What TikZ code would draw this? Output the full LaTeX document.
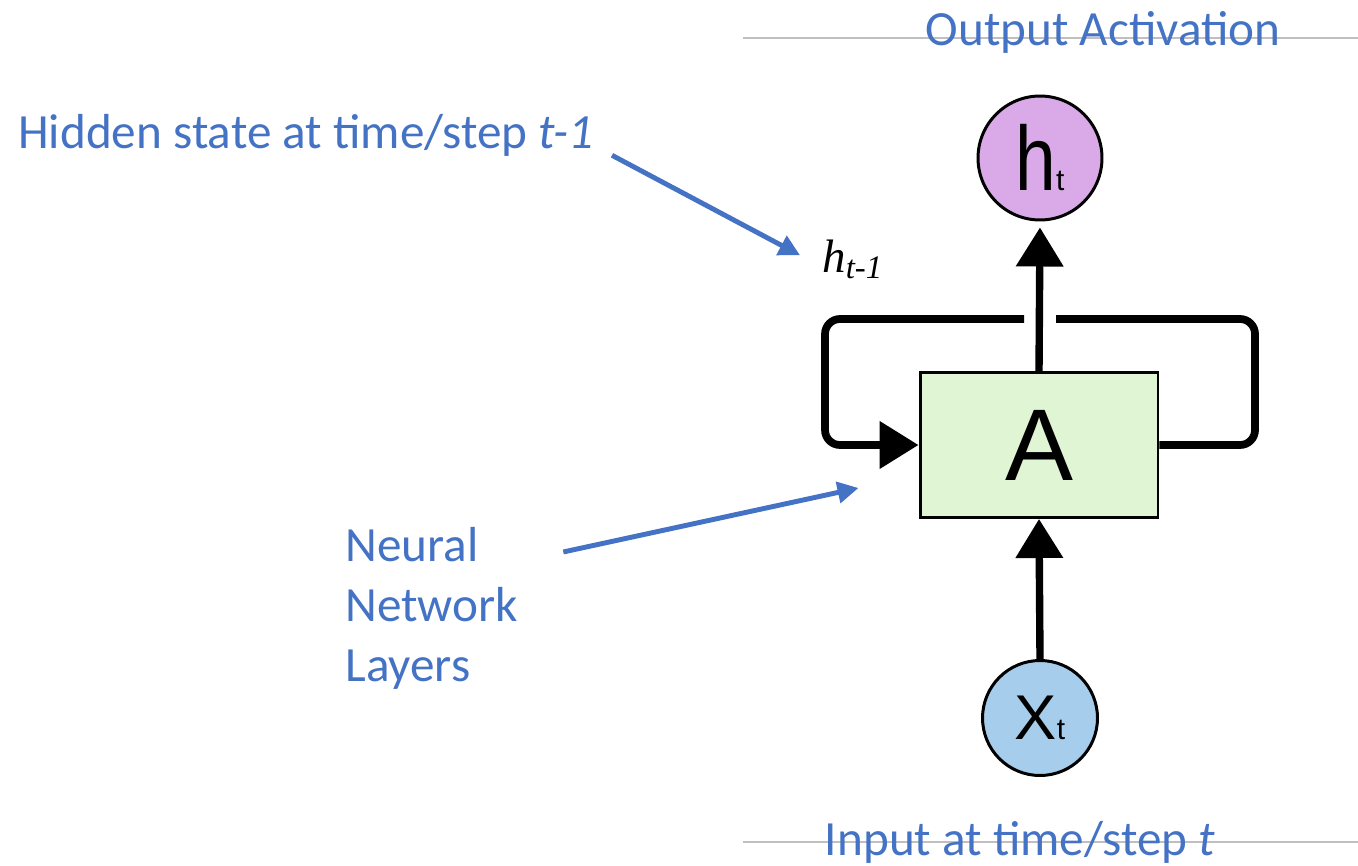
\documentclass[tikz,border=0pt]{standalone}
\usepackage{fontspec}
\setmainfont{Carlito}
\newfontfamily\timesfont{Liberation Serif}
\newfontfamily\arialfont{Liberation Sans}
\usetikzlibrary{arrows.meta,positioning}
\definecolor{slideblue}{RGB}{68,114,196}
\definecolor{rulegray}{RGB}{191,191,191}
\definecolor{hfill}{RGB}{218,170,232}
\definecolor{afill}{RGB}{224,245,212}
\definecolor{xfill}{RGB}{166,205,235}
\tikzset{
  lbl/.style={text=slideblue, font=\fontsize{28}{34.1}\selectfont, inner sep=0pt},
  state/.style={circle, draw=black, line width=1.7pt, inner sep=0pt, font=\arialfont},
  cell/.style={rectangle, draw=black, line width=1.7pt, fill=afill,
    minimum width=4.76cm, minimum height=2.9cm, font=\arialfont\fontsize{58}{60}\selectfont},
  bigtip/.style={-{Triangle[length=0.78cm, width=0.92cm]}},
  flow/.style={line width=4.2pt, bigtip},
  loopline/.style={line width=4.4pt, rounded corners=0.3cm},
  pointer/.style={draw=slideblue, line width=2.8pt, -{Triangle[length=0.42cm, width=0.42cm]}},
  rule/.style={draw=rulegray, line width=0.8pt}
}
\begin{document}
\begin{tikzpicture}[x=0.02cm, y=-0.02cm] % one unit = one pixel, y runs down
\useasboundingbox (0,0) rectangle (1358,865);

% gray slide rules
\draw[rule] (743,38) -- (1358,38);
\draw[rule] (743,842) -- (1358,842);

% the recurrent cell
\node[cell] (A) at (1039,445) {A};
\node[state, fill=hfill, minimum size=2.48cm] (ht) at (1040,158)
  {\fontsize{52}{52}\selectfont\scalebox{0.8}[1]{h}\fontsize{17}{17}\selectfont t};
\node[state, fill=xfill, minimum size=2.3cm] (xt) at (1040,718)
  {\fontsize{36}{36}\selectfont X\fontsize{17}{17}\selectfont t};

\draw[flow, shorten >=0.12cm] (A.north) -- (ht.south);
\draw[flow] (xt.north) -- (A.south);

% loop back, with a gap round the output arrow
\coordinate (gapR) at (1056,319);
\coordinate (gapL) at (1024,319);
\draw[loopline] (A.east) -| (1255,319) -- (gapR);
\draw[loopline, bigtip] (gapL) -| (825,445) -- (A.west);

% labels
\node[lbl, anchor=base] (outlbl) at (1103,46) {Output Activation};
\node[lbl, anchor=base] (inlbl) at (1020,855) {Input at time/step \textit{t}};
\node[lbl, anchor=base west] (hidlbl) at (18,148) {Hidden state at time/step \textit{t-1}};
\node[anchor=base west, inner sep=0pt, font=\timesfont\itshape\fontsize{26.7}{30}\selectfont]
  (hprev) at (822,272) {h\textsubscript{t-1}};
\node[lbl, anchor=base west, align=left] (nnlbl) at (345,681) {Neural\\Network\\Layers}; % base = last line

% pointers
\draw[pointer] ([shift={(18,-1)}]hidlbl.south east) -- ([shift={(-22,-4)}]hprev.west);
\draw[pointer] ([shift={(45,-56)}]nnlbl.east) -- ([shift={(-60,-31)}]A.south west);
\end{tikzpicture}
\end{document}
